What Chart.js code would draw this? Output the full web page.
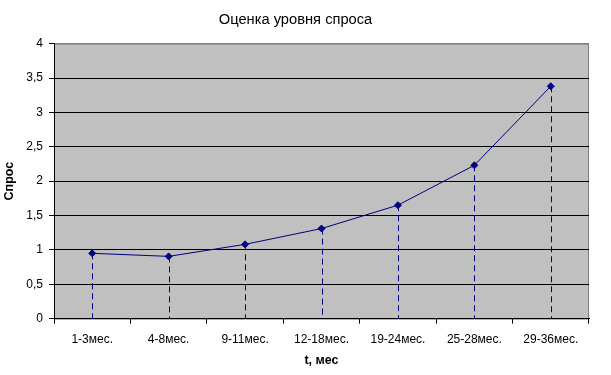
<!DOCTYPE html>
<html>
<head>
<meta charset="utf-8">
<script src="https://cdn.jsdelivr.net/npm/chart.js@4/dist/chart.umd.min.js"></script>
<style>
  html, body { margin: 0; padding: 0; background: #fff; }
</style>
</head>
<body>
<canvas id="demandChart" width="611" height="375"></canvas>
<script>
const periods = ['1-3мес.', '4-8мес.', '9-11мес.', '12-18мес.', '19-24мес.', '25-28мес.', '29-36мес.'];
const demand = [0.95, 0.905, 1.08, 1.31, 1.65, 2.23, 3.38];

const chartTitle = 'Оценка уровня спроса';
const xTitle = 't, мес';
const yTitle = 'Спрос';

// gray plot area with a frame, like the old Excel charts
const plotBackground = {
    id: 'plotBackground',
    beforeDraw(chart) {
        const { ctx, chartArea: a } = chart;
        ctx.save();
        ctx.fillStyle = '#c0c0c0';
        ctx.fillRect(a.left, a.top, a.right - a.left, a.bottom - a.top);
        ctx.strokeStyle = '#808080';
        ctx.lineWidth = 1;
        ctx.strokeRect(a.left + 0.5, a.top + 0.5, a.right - a.left - 1, a.bottom - a.top);
        ctx.restore();
    }
};

// dashed drop lines from each point down to the x axis
const dropLines = {
    id: 'dropLines',
    beforeDatasetsDraw(chart) {
        const { ctx } = chart;
        const yScale = chart.scales.y;
        const base = yScale.getPixelForValue(0);
        ctx.save();
        ctx.strokeStyle = '#000080';
        ctx.lineWidth = 1;
        ctx.setLineDash([6, 4]);
        chart.getDatasetMeta(0).data.forEach(pt => {
            const x = Math.round(pt.x) + 0.5;
            ctx.beginPath();
            ctx.moveTo(x, pt.y);
            ctx.lineTo(x, base);
            ctx.stroke();
        });
        ctx.restore();
    }
};

const ctx = document.getElementById('demandChart').getContext('2d');
new Chart(ctx, {
    type: 'line',
    data: {
        labels: periods,
        datasets: [{
            data: demand,
            borderColor: '#000080',
            backgroundColor: '#000080',
            borderWidth: 1,
            pointStyle: 'rectRot',
            pointRadius: 3.5,
            pointHoverRadius: 3.5,
            tension: 0
        }]
    },
    options: {
        responsive: false,
        animation: false,
        layout: { padding: { top: 6, right: 22, bottom: 0, left: 2 } },
        plugins: {
            legend: { display: false },
            tooltip: { enabled: false },
            title: {
                display: true,
                text: chartTitle,
                color: '#000',
                font: { family: 'Liberation Sans', size: 14.7, weight: 'normal' },
                padding: { top: 5, bottom: 15 }
            }
        },
        scales: {
            x: {
                offset: true,
                grid: { drawOnChartArea: false, drawTicks: true, tickLength: 5, offset: true, color: '#000' },
                border: { color: '#000' },
                ticks: {
                    color: '#000',
                    font: { family: 'Liberation Sans', size: 12 },
                    maxRotation: 0,
                    padding: 9
                },
                title: {
                    display: true,
                    text: xTitle,
                    color: '#000',
                    font: { family: 'Liberation Sans', size: 12.5, weight: 'bold' },
                    padding: { top: -3, bottom: 7 }
                }
            },
            y: {
                min: 0,
                max: 4,
                grid: {
                    color: c => c.tick && c.tick.value === 4 ? '#808080' : '#000',
                    tickColor: '#000',
                    drawTicks: true,
                    tickLength: 5
                },
                border: { color: '#000' },
                ticks: {
                    stepSize: 0.5,
                    color: '#000',
                    font: { family: 'Liberation Sans', size: 12 },
                    padding: 6,
                    callback: v => String(v).replace('.', ',')
                },
                title: {
                    display: true,
                    text: yTitle,
                    color: '#000',
                    font: { family: 'Liberation Sans', size: 12.5, weight: 'bold' },
                    padding: { top: 0, bottom: 6 }
                },
                afterFit: s => { s.width = 52; }
            }
        }
    },
    plugins: [plotBackground, dropLines]
});
</script>
</body>
</html>
